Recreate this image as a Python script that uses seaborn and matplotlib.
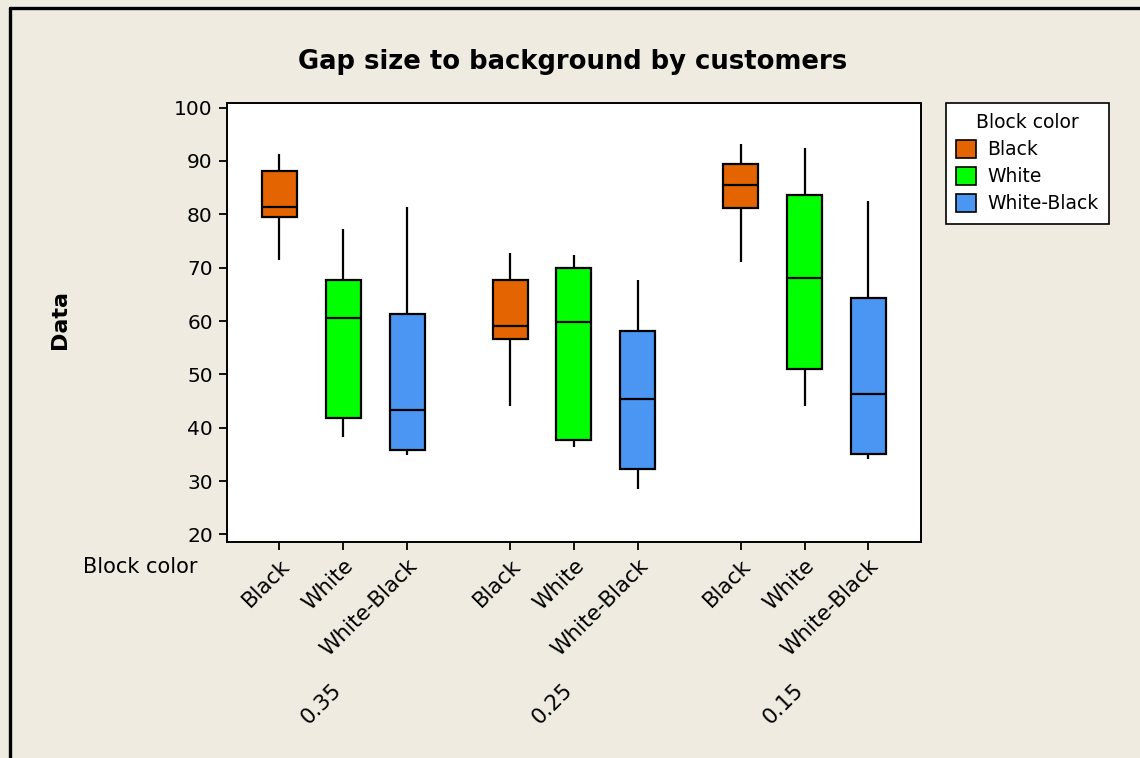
import numpy as np
import pandas as pd
import matplotlib
matplotlib.use("Agg")
import matplotlib.pyplot as plt
from matplotlib.lines import Line2D
import seaborn as sns

# Gap sizes (groups on the x axis) and block colours (hue)
gap_sizes = ["0.35", "0.25", "0.15"]
block_colors = ["Black", "White", "White-Black"]

# Five-number summaries per gap size: [min, Q1, median, Q3, max]
black_stats = [
    [71.4, 79.5, 81.3, 88.1, 91.3],
    [44.1, 56.6, 59.1, 67.7, 72.8],
    [71.1, 81.1, 85.4, 89.5, 93.1],
]
white_stats = [
    [38.2, 41.8, 60.6, 67.7, 77.2],
    [36.3, 37.7, 59.9, 69.9, 72.4],
    [44.1, 51.1, 68.0, 83.6, 92.4],
]
white_black_stats = [
    [34.9, 35.9, 43.3, 61.4, 81.3],
    [28.5, 32.2, 45.4, 58.1, 67.6],
    [34.1, 35.1, 46.3, 64.3, 82.4],
]

palette = {"Black": "#E36400", "White": "#00FF00", "White-Black": "#4B96F3"}
bg = "#EFEBE1"

rows = []
for color, stats in zip(block_colors, [black_stats, white_stats, white_black_stats]):
    for gap, five in zip(gap_sizes, stats):
        for v in five:
            rows.append({"gap": gap, "color": color, "value": v})
df = pd.DataFrame(rows)

sns.set_style("ticks")
plt.rcParams["font.family"] = ["DejaVu Sans"]
plt.rcParams["text.color"] = "black"
plt.rcParams["xtick.color"] = "black"
plt.rcParams["ytick.color"] = "black"
plt.rcParams["axes.labelcolor"] = "black"

fig = plt.figure(figsize=(11.4, 7.58), dpi=100, facecolor=bg)
ax = fig.add_axes([0.1989, 0.285, 0.6087, 0.5795])
ax.set_facecolor("white")

box_width = 0.83
sns.boxplot(
    data=df, x="gap", y="value", hue="color",
    order=gap_sizes, hue_order=block_colors, palette=palette,
    width=box_width, gap=0.45, whis=(0, 100), saturation=1,
    showcaps=False, linewidth=1.6, linecolor="black", fliersize=0,
    medianprops={"color": "black", "linewidth": 1.6},
    whiskerprops={"color": "black", "linewidth": 1.6},
    ax=ax,
)

ax.set_ylim(18.6, 100.9)
ax.set_xlim(-0.505, 2.503)
ax.set_yticks(np.arange(20, 101, 10))
ax.tick_params(axis="y", labelsize=14.5, length=6, width=1.3, color="black",
               labelcolor="black", pad=4)

slot = box_width / len(block_colors)
tick_pos = [g + (h - 1) * slot for g in range(len(gap_sizes)) for h in range(len(block_colors))]
ax.set_xticks(tick_pos)
ax.set_xticklabels(block_colors * len(gap_sizes), rotation=45, ha="right",
                   rotation_mode="anchor", fontsize=15.5)
ax.tick_params(axis="x", length=6, width=1.3, color="black", labelcolor="black", pad=4)
ax.set_xlabel("")
ax.set_ylabel("")
for s in ax.spines.values():
    s.set_linewidth(1.4)
    s.set_color("black")

# Gap-size labels below the colour labels
for g, label in enumerate(gap_sizes):
    ax.text(g - 0.02, -0.33, label, transform=ax.get_xaxis_transform(),
            rotation=45, ha="right", va="center", rotation_mode="anchor",
            fontsize=15.5, color="black")
ax.text(-0.042, -0.058, "Block color", transform=ax.transAxes, ha="right",
        va="center", fontsize=15, color="black")

# Legend
handles, labels = ax.get_legend_handles_labels()
ax.legend_.remove()
leg = fig.legend(handles, labels, title="Block color", loc="upper left",
                 bbox_to_anchor=(946 / 1140, 1 - 103 / 758), fontsize=13.5,
                 title_fontsize=13.5, frameon=True, fancybox=False,
                 framealpha=1, facecolor="white", borderaxespad=0,
                 edgecolor="black", handlelength=1.05, handleheight=1.05,
                 borderpad=0.55, labelspacing=0.42, handletextpad=0.6)
leg.get_frame().set_linewidth(1.2)
for h in leg.legend_handles:
    h.set_edgecolor("black")
    h.set_linewidth(1.2)

fig.text(0.502, 1 - 62 / 758, "Gap size to background by customers",
         ha="center", va="center", fontsize=18.6, fontweight="bold", color="black")
fig.text(60 / 1140, 1 - 320 / 758, "Data", rotation=90, ha="center",
         va="center", fontsize=16, fontweight="bold", color="black")

# Outer frame lines (left and top)
fig.add_artist(Line2D([10 / 1140, 10 / 1140], [0, 1 - 7.5 / 758],
                      transform=fig.transFigure, color="black", linewidth=2.4))
fig.add_artist(Line2D([10 / 1140, 1], [1 - 7.5 / 758, 1 - 7.5 / 758],
                      transform=fig.transFigure, color="black", linewidth=2.4))

fig.savefig("out.png", dpi=100, facecolor=bg)
